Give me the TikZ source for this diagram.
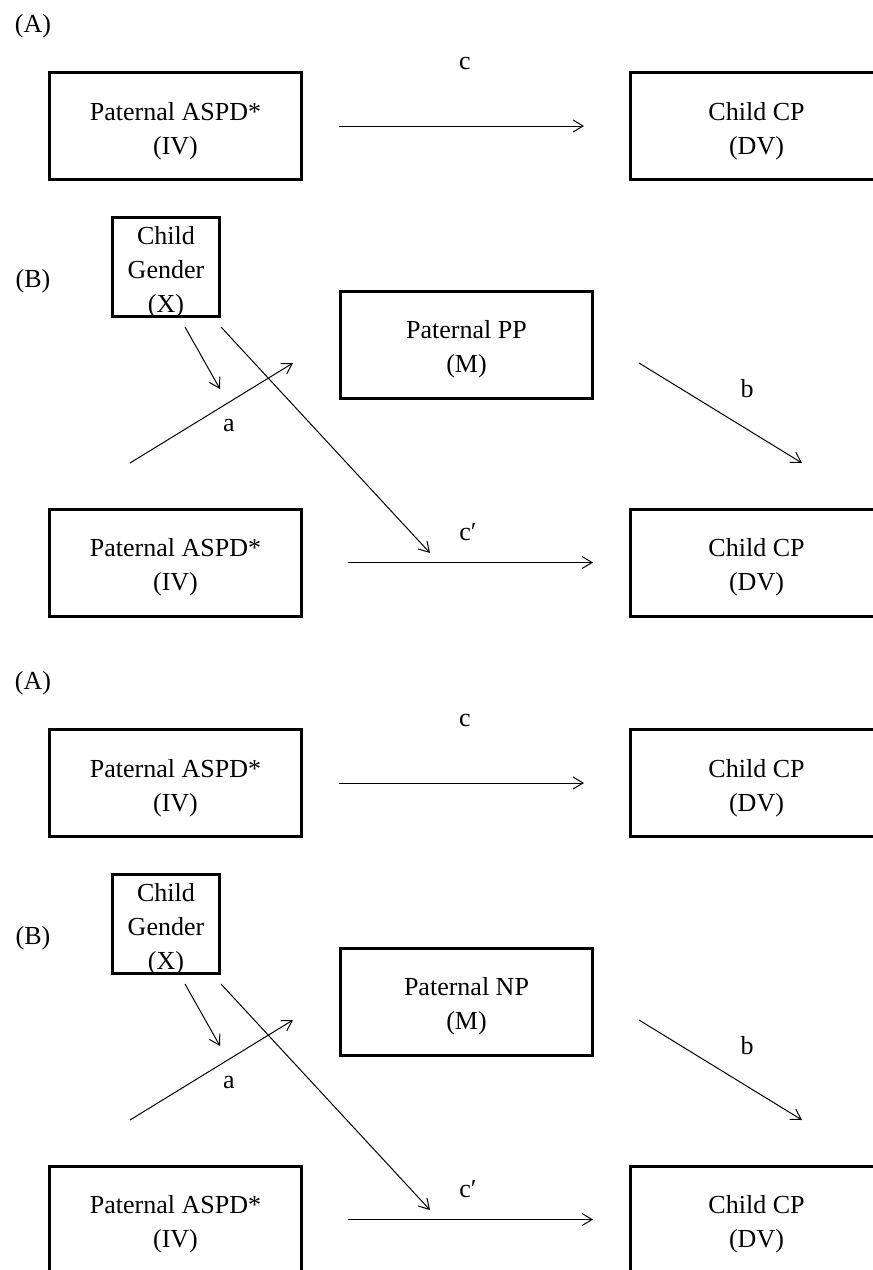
\documentclass[tikz,border=0pt]{standalone}
\usepackage{fontspec}
\setmainfont{Liberation Serif}
\usetikzlibrary{arrows.meta}

\tikzset{
  varbox/.style={draw, line width=3pt, inner sep=0pt,
    minimum width=252pt, minimum height=107pt},
  genderbox/.style={varbox, minimum width=107pt, minimum height=99pt},
  boxtext/.style={inner sep=0pt, align=center, yshift=-5pt,
    font=\fontsize{26}{34}\selectfont},
  lbl/.style={inner sep=0pt, font=\fontsize{26}{34}\selectfont},
  link/.style={-{Straight Barb[length=10pt,width=12pt]}, line width=1pt}
}

% One (A)/(B) pair of mediation models.
% #1 = name prefix, #2 = vertical offset, #3 = mediator name
\newcommand\mediationpanel[3]{%
  \begin{scope}[shift={(0,#2)}]
    % (A) total effect
    \node[lbl] (#1tagA) at (33,26) {(A)};
    \node[varbox] (#1ivA) at (175.5,126) {};
    \node[boxtext] (#1ivAt) at (#1ivA.center) {Paternal ASPD*\\(IV)};
    \node[varbox] (#1dvA) at (756.5,126) {};
    \node[boxtext] (#1dvAt) at (#1dvA.center) {Child CP\\(DV)};
    \draw[link, shorten <=36pt, shorten >=45pt] (#1ivA) -- (#1dvA);
    \node[lbl] (#1c) at (465,63) {c};
    % (B) moderated mediation
    \node[lbl] (#1tagB) at (33,281) {(B)};
    \node[genderbox] (#1x) at (166,267) {};
    \node[boxtext] (#1xt) at (#1x.center) {Child\\Gender\\(X)};
    \node[varbox] (#1m) at (466.5,344.5) {};
    \node[boxtext] (#1mt) at (#1m.center) {Paternal #3\\(M)};
    \node[varbox] (#1iv) at (175.5,562.5) {};
    \node[boxtext] (#1ivt) at (#1iv.center) {Paternal ASPD*\\(IV)};
    \node[varbox] (#1dv) at (756.5,562.5) {};
    \node[boxtext] (#1dvt) at (#1dv.center) {Child CP\\(DV)};
    \coordinate (#1xaS) at (185,327);
    \coordinate (#1xaE) at (220,389);
    \coordinate (#1xcS) at (221,327);
    \coordinate (#1xcE) at (430,553);
    \coordinate (#1aS) at (130,463);
    \coordinate (#1aE) at (293,363);
    \coordinate (#1bS) at (639,363);
    \coordinate (#1bE) at (802,463);
    \draw[link] (#1xaS) -- (#1xaE);
    \draw[link] (#1xcS) -- (#1xcE);
    \draw[link] (#1aS) -- (#1aE);
    \draw[link] (#1bS) -- (#1bE);
    \draw[link, shorten <=45pt, shorten >=36pt] (#1iv) -- (#1dv);
    \node[lbl] (#1a) at (229,426) {a};
    \node[lbl] (#1b) at (747,389) {b};
    \node[lbl] (#1cp) at (468,532) {c′};
  \end{scope}%
}

\begin{document}
\begin{tikzpicture}[x=1pt, y=-1pt]
  \useasboundingbox (0,0) rectangle (873,1270);
  \clip (0,0) rectangle (873,1270);
  \fill[white] (0,0) rectangle (873,1270);
  \mediationpanel{p}{0}{PP}
  \mediationpanel{n}{657}{NP}
\end{tikzpicture}
\end{document}
